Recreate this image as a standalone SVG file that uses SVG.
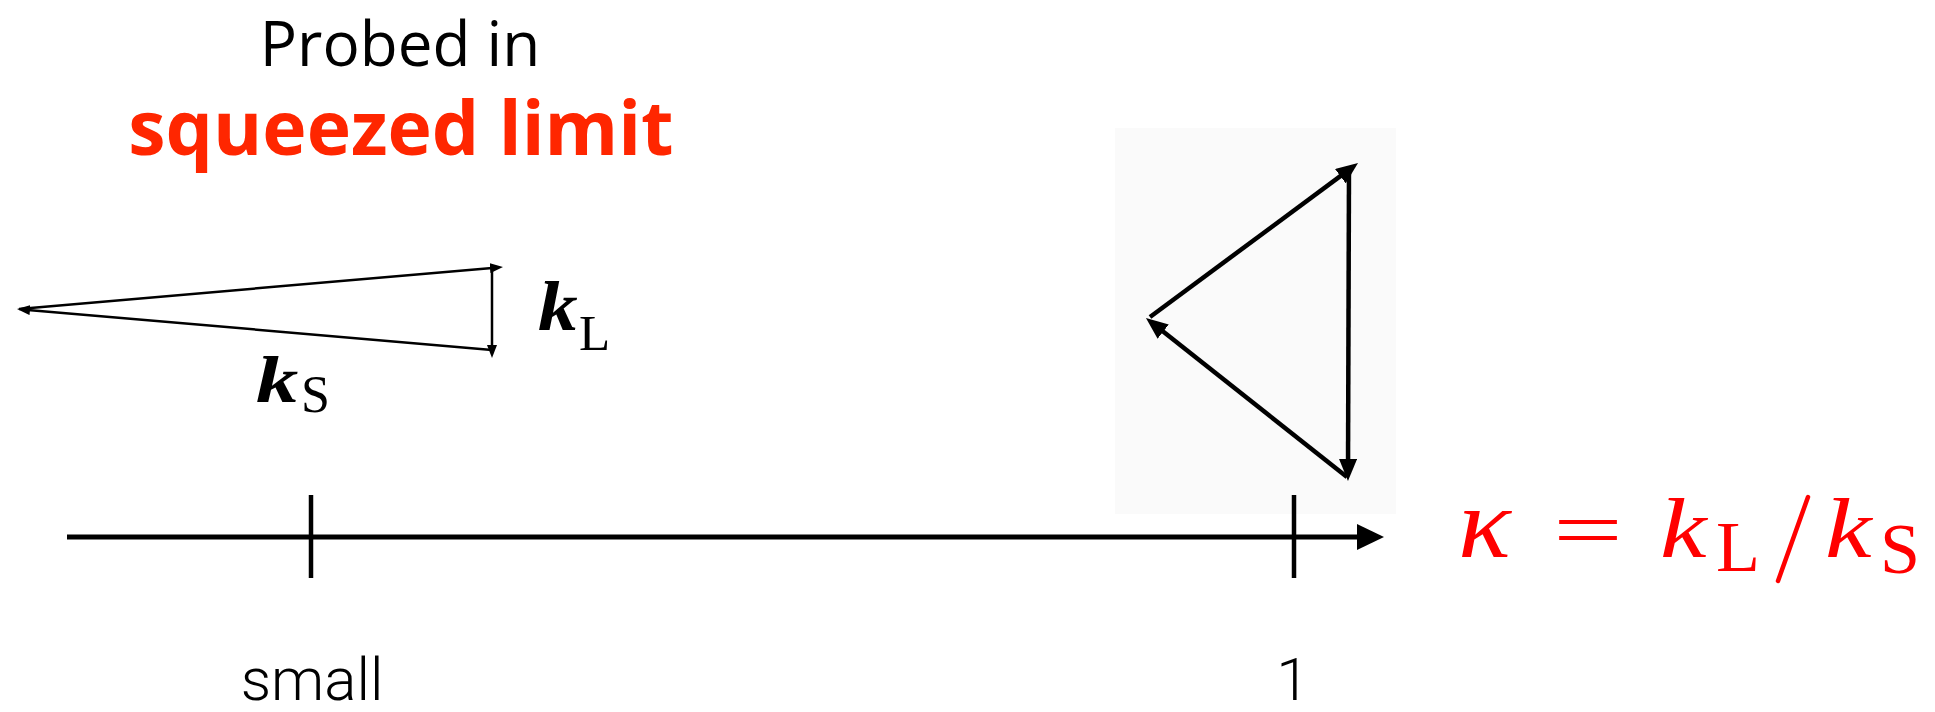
<svg xmlns="http://www.w3.org/2000/svg" width="1935" height="712" viewBox="0 0 1935 712">
  <style>
    .title { font-family: "Open Sans", "Liberation Sans", sans-serif; }
    .tick-label { font-family: Roboto, "Liberation Sans", sans-serif; font-weight: 300; font-size: 60px; fill: #000; }
    .math { font-family: "Liberation Serif", "DejaVu Serif", serif; }
    .vec { font-weight: bold; font-style: italic; }
    .red { fill: #ff0000; }
    .edge-big { stroke: #000; stroke-width: 4.5; fill: none; marker-end: url(#ah-big); }
    .edge-small { stroke: #000; stroke-width: 2.5; fill: none; marker-end: url(#ah-small); }
    .axis { stroke: #000; stroke-width: 5; }
    .tick { stroke: #000; stroke-width: 4.5; }
  </style>
  <defs>
    <marker id="ah-big" viewBox="0 0 22 18" refX="13" refY="9" markerWidth="22" markerHeight="18" markerUnits="userSpaceOnUse" orient="auto">
      <path d="M0,0 L22,9 L0,18 z" fill="#000"/>
    </marker>
    <marker id="ah-small" viewBox="0 0 13 10" refX="8" refY="5" markerWidth="13" markerHeight="10" markerUnits="userSpaceOnUse" orient="auto">
      <path d="M0,0 L13,5 L0,10 z" fill="#000"/>
    </marker>
  </defs>
  <rect width="1935" height="712" fill="#ffffff"/>

  <g id="title">
    <text class="title" x="400" y="66" font-size="62" text-anchor="middle" fill="#000">Probed in</text>
    <text class="title" x="401" y="155" font-size="75" font-weight="bold" text-anchor="middle" fill="#ff2600">squeezed limit</text>
  </g>

  <g id="squeezed-triangle">
    <text class="math vec" font-size="69" transform="translate(538 330) scale(1.15 1)">k</text>
    <text class="math" x="579" y="350" font-size="51">L</text>
    <text class="math vec" font-size="65" transform="translate(256 402) scale(1.3 1)">k</text>
    <text class="math" x="301" y="412" font-size="52">S</text>
  </g>

  <g id="equilateral-triangle">
    <rect x="1115" y="128" width="281" height="386" fill="#fafafa"/>
  </g>

  <g id="axis">
    <line class="axis" x1="67" y1="537" x2="1360" y2="537"/>
    <path d="M1357,524 L1384,537 L1357,550 z" fill="#000"/>
    <line class="tick" x1="311" y1="495" x2="311" y2="578"/>
    <line class="tick" x1="1294" y1="495" x2="1294" y2="578"/>
    <text class="tick-label" x="312" y="700" text-anchor="middle">small</text>
    <text class="tick-label" x="1293" y="700" text-anchor="middle">1</text>
  </g>

  <g id="kappa-label" class="math red">
    <text font-size="100" font-style="italic" transform="translate(1458 557) scale(1.1 1)">κ</text>
    <text font-size="80" text-anchor="middle" transform="translate(1588 557) scale(1.55 1)">=</text>
    <text font-size="84" font-style="italic" transform="translate(1660 557) scale(1.25 1)">k</text>
    <text x="1716" y="571" font-size="72">L</text>
    <line x1="1808" y1="497" x2="1778" y2="581" stroke="#ff0000" stroke-width="4.5" stroke-linecap="round"/>
    <text font-size="84" font-style="italic" transform="translate(1825 557) scale(1.25 1)">k</text>
    <text x="1880" y="573" font-size="72">S</text>
  </g>

  <g id="connectors">
    <line class="edge-small" x1="19" y1="309" x2="498" y2="267.4"/>
    <line class="edge-small" x1="492" y1="268" x2="492" y2="353"/>
    <line class="edge-small" x1="492" y1="350" x2="22" y2="309.4"/>
    <line class="edge-big" x1="1150" y1="317" x2="1350.8" y2="168.4"/>
    <line class="edge-big" x1="1349" y1="166" x2="1348" y2="472"/>
    <line class="edge-big" x1="1347" y1="477" x2="1153" y2="323.6"/>
  </g>
</svg>
